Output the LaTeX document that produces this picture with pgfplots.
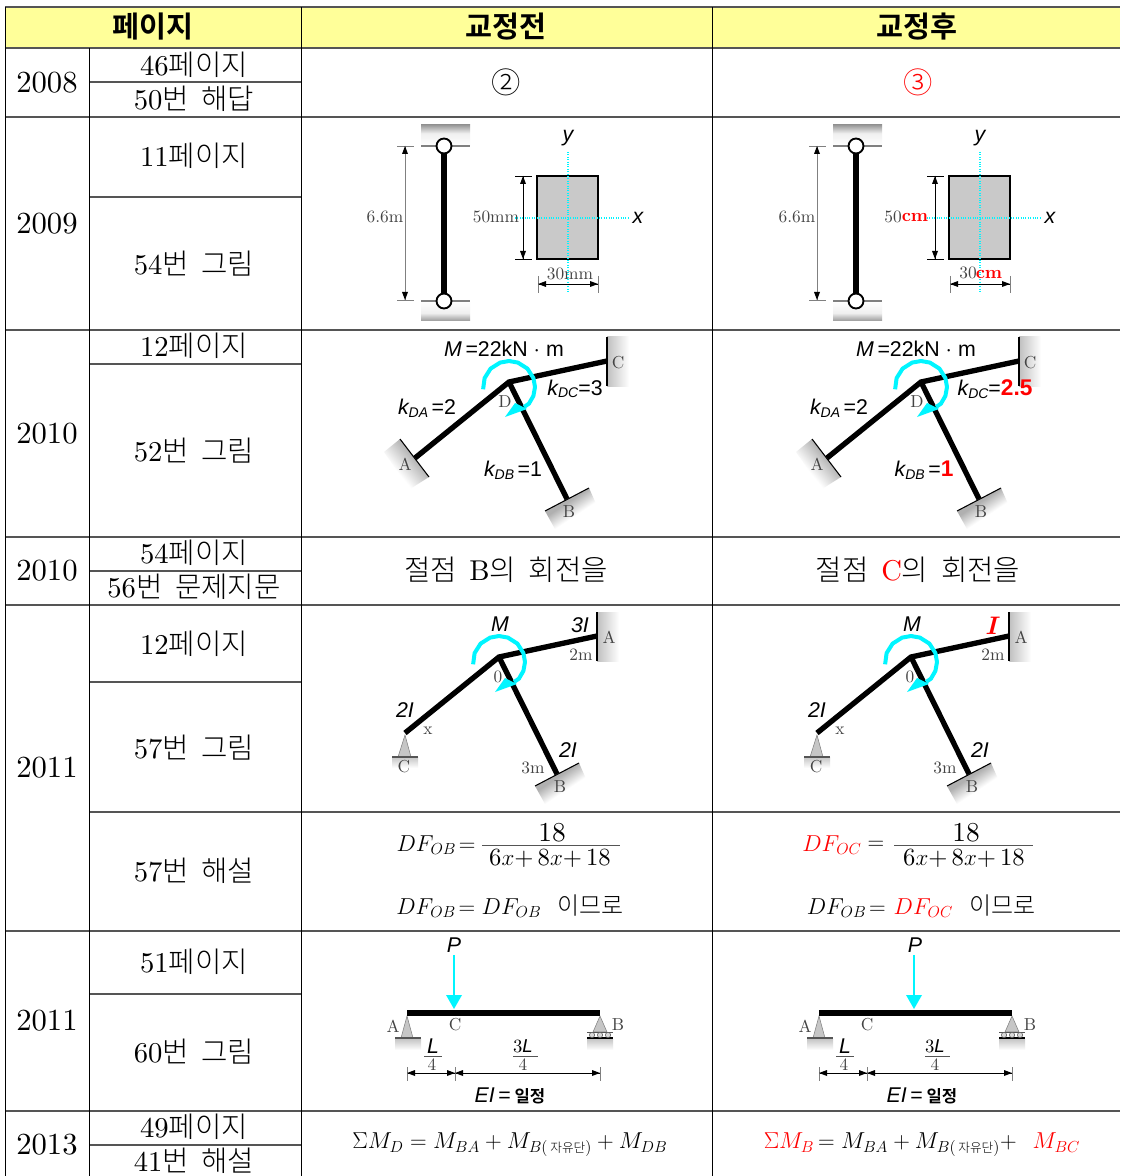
\documentclass[border=0pt]{standalone}
\usepackage{fontspec}
\usepackage{pgfplots}
\pgfplotsset{compat=1.18}
\setmainfont{lmroman10-regular.otf}
\newfontfamily\dgb{lmroman10-bold.otf}
\newfontfamily\dgbi{lmroman10-bolditalic.otf}
\newfontfamily\krf{Noto Sans CJK KR Light}
\newfontfamily\krb{Noto Sans CJK KR Bold}
\newfontfamily\lsf{Liberation Sans}
\definecolor{hdr}{HTML}{FFFF99}
\definecolor{rule}{HTML}{555555}
\definecolor{lab}{HTML}{444444}
\definecolor{cy}{HTML}{00F5FF}
\definecolor{rd}{HTML}{FF0000}
\colorlet{shA}{gray!62}
\colorlet{shB}{gray!12}
\colorlet{shC}{gray!80}
% support gradients: dark next to the line, fading to white
\pgfdeclareverticalshading{wallA}{100bp}{color(0bp)=(white); color(37bp)=(white); color(62bp)=(shA); color(100bp)=(shA)}
\pgfdeclareverticalshading{wallB}{100bp}{color(0bp)=(white); color(41bp)=(white); color(58bp)=(shA); color(100bp)=(shA)}
\pgfdeclareverticalshading{bandup}{100bp}{color(0bp)=(white); color(25bp)=(white); color(55bp)=(shB); color(75bp)=(shC); color(100bp)=(shC)}
\pgfdeclareverticalshading{banddn}{100bp}{color(0bp)=(shC); color(25bp)=(shC); color(45bp)=(shB); color(75bp)=(white); color(100bp)=(white)}
\pgfplotsset{
  off/.style 2 args={x filter/.expression={x+#1},y filter/.expression={y+#2}},
}
% line and polygon helpers, coordinates in image pixels
\newcommand\Ln[4]{\addplot[#1,off={#2}{#3}] coordinates {#4};}
\newcommand\Pg[4]{\addplot[#1,off={#2}{#3}] coordinates {#4} --cycle;}
\newcommand\T[4]{\node[inner sep=0pt,#3] at (axis cs:#1,#2) {#4};}
\newcommand\fs[1]{\fontsize{#1}{#1}\selectfont}
\tikzset{
  cell/.style={font=\fs{23}},
  pg/.style={font=\fs{21.5}},
  grey/.style={font=\fs{13},text=lab},
  sa/.style={font=\lsf\fs{16}},
}
\newcommand\kr[1]{{\krf #1}}
\newcommand\kl[1]{{\lsf\itshape k\raisebox{-2pt}{\fs{10.5}#1}}}
\newcommand\itl[1]{{\lsf\itshape #1}}
\newcommand\rbf[1]{{\lsf\bfseries\fs{17}\textcolor{rd}{#1}}}
\newcommand\redcm{{\dgb\fs{13.5}\textcolor{rd}{cm}}}
\newcommand\den{6$x$+\,8$x$+\,18}

% column on pins with section
\newcommand\colI[1]{
  \Pg{draw=none,shading=bandup}{#1}{0}{(421,125)(470,125)(470,146)(421,146)}
  \Pg{draw=none,shading=banddn}{#1}{0}{(421,301)(470,301)(470,321)(421,321)}
  \Ln{line width=0.9pt,gray}{#1}{0}{(421,146)(470,146)}
  \Ln{line width=0.9pt,gray}{#1}{0}{(421,301)(470,301)}
  \Ln{line width=3.8pt,black}{#1}{0}{(444,146)(444,301)}
  \addplot[only marks,mark=*,mark size=5.6pt,mark options={fill=white,draw=black,line width=1.4pt},off={#1}{0}] coordinates {(444,146)(444,301)};
  \Ln{line width=0.6pt,gray}{#1}{0}{(405,146)(405,300)}
  \Ln{line width=0.6pt,gray}{#1}{0}{(397,146)(414,146)}
  \Ln{line width=0.6pt,gray}{#1}{0}{(397,300)(414,300)}
  \Pg{fill=black,draw=none}{#1}{0}{(405,146)(402,154)(408,154)}
  \Pg{fill=black,draw=none}{#1}{0}{(405,300)(402,292)(408,292)}
  \Pg{fill=gray!42,draw=black,line width=1.5pt}{#1}{0}{(537,176)(598,176)(598,259)(537,259)}
  \Ln{cy,densely dotted,line width=0.8pt}{#1}{0}{(568,152)(568,292)}
  \Ln{cy,densely dotted,line width=0.8pt}{#1}{0}{(515,218)(628,218)}
  \Ln{line width=0.5pt,black}{#1}{0}{(523,176)(523,259)}
  \Ln{line width=0.5pt,black}{#1}{0}{(515,176)(532,176)}
  \Ln{line width=0.5pt,black}{#1}{0}{(515,259)(532,259)}
  \Pg{fill=black,draw=none}{#1}{0}{(523,176)(520,184)(526,184)}
  \Pg{fill=black,draw=none}{#1}{0}{(523,259)(520,251)(526,251)}
  \Ln{line width=0.5pt,black}{#1}{0}{(538,284)(598,284)}
  \Ln{line width=0.5pt,gray}{#1}{0}{(538,276)(538,293)}
  \Ln{line width=0.5pt,gray}{#1}{0}{(598,276)(598,293)}
  \Pg{fill=black,draw=none}{#1}{0}{(538,284)(546,281)(546,287)}
  \Pg{fill=black,draw=none}{#1}{0}{(598,284)(590,281)(590,287)}
}
% frame with moment arrow
\newcommand\frameG[2]{
  \Pg{draw=none,left color=gray!50,right color=white}{#1}{#2}{(607,337)(629,337)(629,386)(607,386)}
  \Ln{line width=0.8pt,black}{#1}{#2}{(607,337)(607,386)}
  \Pg{draw=none,shading=wallB,shading angle=33.5}{#1}{#2}{(545,511)(589,488)(597,506)(555,529)}
  \Ln{line width=0.8pt,black}{#1}{#2}{(545,511)(589,488)}
  \Ln{line width=4pt,black,line join=miter}{#1}{#2}{(415,458)(509,382)(607,361)}
  \Ln{line width=4pt,black}{#1}{#2}{(509,382)(567,499)}
  \Ln{line width=3pt,cy,line join=round}{#1}{#2}{(483.1,389.3)(484.6,378.1)(490.6,368.6)(500.1,362.6)(509,361)(517.9,362.6)(527.4,368.6)(533.4,378.1)(535,387)(533.4,395.9)(528.9,403.7)(524,407)}
  \Pg{fill=cy,draw=none}{#1}{#2}{(505,417)(527,409)(515,403)}
}
\newcommand\wallA[1]{
  \Pg{draw=none,shading=wallA,shading angle=-50}{#1}{0}{(400,439)(429,477)(410,489)(384,452)}
  \Ln{line width=0.8pt,black}{#1}{0}{(400,439)(429,477)}
}
\newcommand\pinC[1]{
  \Pg{draw=none,top color=gray!45,bottom color=white}{#1}{0}{(392,757)(418,757)(418,768)(392,768)}
  \Pg{fill=gray!45,draw=gray,line width=0.4pt}{#1}{0}{(405,735)(398,757)(411,757)}
  \Ln{line width=0.8pt,rule}{#1}{0}{(392,757)(418,757)}
}
% simple beam; arrow x with the head's left and right x
\newcommand\beam[4]{
  \Pg{draw=none,top color=gray!45,bottom color=white}{#1}{0}{(395,1039)(421,1039)(421,1050)(395,1050)}
  \Pg{draw=none,top color=gray!45,bottom color=white}{#1}{0}{(587,1039)(613,1039)(613,1050)(587,1050)}
  \Pg{fill=gray!45,draw=gray,line width=0.4pt}{#1}{0}{(407,1016)(401,1038)(413,1038)}
  \Ln{line width=0.8pt,rule}{#1}{0}{(395,1038)(421,1038)}
  \Pg{fill=gray!45,draw=gray,line width=0.4pt}{#1}{0}{(600,1016)(593,1032)(607,1032)}
  \Ln{line width=0.6pt,rule}{#1}{0}{(587,1032)(613,1032)}
  \addplot[only marks,mark=*,mark size=2pt,mark options={fill=gray!30,draw=rule,line width=0.4pt},off={#1}{0}] coordinates {(592,1035)(600,1035)(608,1035)};
  \Ln{line width=0.8pt,black}{#1}{0}{(587,1038)(613,1038)}
  \Ln{line width=4.2pt,black}{#1}{0}{(407,1013)(600,1013)}
  \Ln{line width=2.2pt,cy}{#1}{0}{(#2,955)(#2,997)}
  \Pg{fill=cy,draw=none}{#1}{0}{(#2,1009)(#3,995)(#4,995)}
  \Ln{line width=0.5pt,black}{#1}{0}{(407,1073)(600,1073)}
  \Ln{line width=0.5pt,gray}{#1}{0}{(407,1067)(407,1081)}
  \Ln{line width=0.5pt,gray}{#1}{0}{(455,1067)(455,1081)}
  \Ln{line width=0.5pt,gray}{#1}{0}{(600,1067)(600,1081)}
  \Pg{fill=black,draw=none}{#1}{0}{(407,1073)(415,1070)(415,1076)}
  \Pg{fill=black,draw=none}{#1}{0}{(455,1073)(447,1070)(447,1076)}
  \Pg{fill=black,draw=none}{#1}{0}{(455,1073)(463,1070)(463,1076)}
  \Pg{fill=black,draw=none}{#1}{0}{(600,1073)(592,1070)(592,1076)}
  \Ln{line width=0.5pt,rule}{#1}{0}{(424,1056)(442,1056)}
  \Ln{line width=0.5pt,rule}{#1}{0}{(513,1056)(538,1056)}
}
\begin{document}
\begin{tikzpicture}
\begin{axis}[
  scale only axis, width=840pt, height=882pt,
  xmin=0, xmax=1120, ymin=0, ymax=1176, y dir=reverse,
  hide axis, clip=true,
]
% page background and header
\Pg{fill=white,draw=none}{0}{0}{(0,0)(1120,0)(1120,1176)(0,1176)}
\Pg{fill=hdr,draw=none}{0}{0}{(5,7)(1120,7)(1120,48)(5,48)}
% full width rules
\Ln{line width=0.9pt,rule}{0}{0}{(5,7)(1120,7)}
\Ln{line width=0.9pt,rule}{0}{0}{(5,48)(1120,48)}
\Ln{line width=0.9pt,rule}{0}{0}{(5,117)(1120,117)}
\Ln{line width=0.9pt,rule}{0}{0}{(5,330)(1120,330)}
\Ln{line width=0.9pt,rule}{0}{0}{(5,537)(1120,537)}
\Ln{line width=0.9pt,rule}{0}{0}{(5,605)(1120,605)}
\Ln{line width=0.9pt,rule}{0}{0}{(5,931)(1120,931)}
\Ln{line width=0.9pt,rule}{0}{0}{(5,1111)(1120,1111)}
% inner rules of the page column
\Ln{line width=0.9pt,rule}{0}{0}{(89,82)(301,82)}
\Ln{line width=0.9pt,rule}{0}{0}{(89,197)(301,197)}
\Ln{line width=0.9pt,rule}{0}{0}{(89,364)(301,364)}
\Ln{line width=0.9pt,rule}{0}{0}{(89,571)(301,571)}
\Ln{line width=0.9pt,rule}{0}{0}{(89,682)(301,682)}
\Ln{line width=0.9pt,rule}{0}{0}{(89,812)(1120,812)}
\Ln{line width=0.9pt,rule}{0}{0}{(89,994)(301,994)}
\Ln{line width=0.9pt,rule}{0}{0}{(89,1145)(301,1145)}
% verticals
\Ln{line width=0.7pt,black}{0}{0}{(5,7)(5,1176)}
\Ln{line width=0.7pt,black}{0}{0}{(89,48)(89,1176)}
\Ln{line width=0.7pt,black}{0}{0}{(301,7)(301,1176)}
\Ln{line width=0.7pt,black}{0}{0}{(712,7)(712,1176)}
% header text
\T{153}{27}{font=\krb\fs{22}}{페이지}
\T{506}{27}{font=\krb\fs{22}}{교정전}
\T{917}{27}{font=\krb\fs{22}}{교정후}
% years
\T{47}{83}{cell}{2008}
\T{47}{224}{cell}{2009}
\T{47}{434}{cell}{2010}
\T{47}{571}{cell}{2010}
\T{47}{768}{cell}{2011}
\T{47}{1021}{cell}{2011}
\T{47}{1145}{cell}{2013}
% page column
\T{194}{65}{pg}{46\kr{페이지}}
\T{194}{99}{pg}{50\kr{번\ \ 해답}}
\T{194}{156}{pg}{11\kr{페이지}}
\T{194}{264}{pg}{54\kr{번\ \ 그림}}
\T{194}{346}{pg}{12\kr{페이지}}
\T{194}{451}{pg}{52\kr{번\ \ 그림}}
\T{194}{553}{pg}{54\kr{페이지}}
\T{194}{587}{pg}{56\kr{번\ \ 문제지문}}
\T{194}{644}{pg}{12\kr{페이지}}
\T{194}{748}{pg}{57\kr{번\ \ 그림}}
\T{194}{871}{pg}{57\kr{번\ \ 해설}}
\T{194}{962}{pg}{51\kr{페이지}}
\T{194}{1052}{pg}{60\kr{번\ \ 그림}}
\T{194}{1127}{pg}{49\kr{페이지}}
\T{194}{1161}{pg}{41\kr{번\ \ 해설}}
% row 2008
\T{506}{82}{font=\krf\fs{22}}{②}
\T{918}{82}{font=\krf\fs{22},text=rd}{③}
% row 2009
\colI{0}
\colI{412}
\T{385}{217}{grey}{6.6m}
\T{797}{217}{grey}{6.6m}
\T{496}{217}{grey}{50mm}
\T{570}{274}{grey}{30mm}
\T{893}{217}{grey}{50}
\T{915}{217}{}{\redcm}
\T{968}{273}{grey}{30}
\T{989}{274}{}{\redcm}
\T{568}{138}{sa}{\itl{y}}
\T{980}{138}{sa}{\itl{y}}
\T{638}{218}{sa}{\itl{x}}
\T{1050}{218}{sa}{\itl{x}}
% row 2010 frame
\wallA{0}
\wallA{412}
\frameG{0}{0}
\frameG{412}{0}
\T{504}{349}{sa}{\itl{M}\,=22kN\ $\cdot$\ m}
\T{916}{349}{sa}{\itl{M}\,=22kN\ $\cdot$\ m}
\T{618}{363}{grey}{C}
\T{1030}{363}{grey}{C}
\T{505}{402}{grey}{D}
\T{917}{402}{grey}{D}
\T{405}{464}{grey}{A}
\T{817}{464}{grey}{A}
\T{569}{512}{grey}{B}
\T{981}{512}{grey}{B}
\T{427}{408}{sa}{\kl{DA}\,=2}
\T{839}{408}{sa}{\kl{DA}\,=2}
\T{575}{389}{sa}{\kl{DC}=3}
\T{995}{389}{sa}{\kl{DC}=\rbf{2.5}}
\T{513}{470}{sa}{\kl{DB}\,=1}
\T{924}{470}{sa}{\kl{DB}\,=\rbf{1}}
% row 2010 text
\T{506}{570}{pg}{\kr{절점\ \ }B\kr{의\ \ 회전을}}
\T{918}{570}{pg}{\kr{절점\ \ }\textcolor{rd}{C}\kr{의\ \ 회전을}}
% row 2011 frame
\pinC{0}
\pinC{412}
\frameG{-10}{275}
\frameG{402}{275}
\T{609}{637}{grey}{A}
\T{1021}{637}{grey}{A}
\T{581}{655}{grey}{2m}
\T{993}{655}{grey}{2m}
\T{498}{677}{grey}{0}
\T{910}{677}{grey}{0}
\T{428}{731}{grey}{x}
\T{840}{731}{grey}{x}
\T{404}{767}{grey}{C}
\T{816}{767}{grey}{C}
\T{533}{768}{grey}{3m}
\T{945}{768}{grey}{3m}
\T{560}{787}{grey}{B}
\T{972}{787}{grey}{B}
\T{500}{624}{sa}{\itl{M}}
\T{912}{624}{sa}{\itl{M}}
\T{580}{625}{sa}{\itl{3I}}
\T{991}{626}{}{{\dgbi\fs{19}\textcolor{rd}{I}}}
\T{405}{710}{sa}{\itl{2I}}
\T{817}{710}{sa}{\itl{2I}}
\T{568}{750}{sa}{\itl{2I}}
\T{980}{750}{sa}{\itl{2I}}
% row 2011 formulas
\Ln{line width=0.5pt,rule}{0}{0}{(482,845)(620,845)}
\Ln{line width=0.5pt,rule}{0}{0}{(894,845)(1033,845)}
\T{436}{845}{font=\fs{18}}{$DF_{OB}\!=$}
\T{552}{833}{font=\fs{20.5}}{18}
\T{550}{858}{font=\fs{18.5}}{\den}
\T{832}{845}{font=\fs{18},text=rd}{$DF_{OC}$}
\T{876}{845}{font=\fs{18}}{$=$}
\T{966}{833}{font=\fs{20.5}}{18}
\T{964}{858}{font=\fs{18.5}}{\den}
\T{510}{906}{font=\fs{18}}{$DF_{OB}\!=DF_{OB}$\ \ \kr{이므로}}
\T{921}{906}{font=\fs{18}}{$DF_{OB}\!=$\ \textcolor{rd}{$DF_{OC}$}\ \ \kr{이므로}}
% row 2011 beam
\beam{0}{454}{446}{462}
\beam{412}{502}{494}{510}
\T{454}{945}{sa}{\itl{P}}
\T{915}{945}{sa}{\itl{P}}
\T{393}{1026}{grey}{A}
\T{805}{1026}{grey}{A}
\T{455}{1025}{grey}{C}
\T{867}{1025}{grey}{C}
\T{618}{1025}{grey}{B}
\T{1030}{1025}{grey}{B}
\T{433}{1046}{sa}{\itl{L}}
\T{845}{1046}{sa}{\itl{L}}
\T{432}{1065}{grey}{4}
\T{844}{1065}{grey}{4}
\T{523}{1046}{font=\fs{14}}{3\itl{L}}
\T{935}{1046}{font=\fs{14}}{3\itl{L}}
\T{523}{1065}{grey}{4}
\T{935}{1065}{grey}{4}
\T{510}{1096}{sa}{\itl{EI}\,={\krb\fs{12.5} 일정}}
\T{922}{1096}{sa}{\itl{EI}\,={\krb\fs{12.5} 일정}}
% last row
\T{510}{1145}{font=\fs{18}}{$\Sigma M_D=M_{BA}+M_{B(\mbox{\krf\fs{9.5} 자유단})}+M_{DB}$}
\T{922}{1145}{font=\fs{18}}{\textcolor{rd}{$\Sigma M_B$}$\,=M_{BA}+M_{B(\mbox{\krf\fs{9.5} 자유단})}+$\ \ \textcolor{rd}{$M_{BC}$}}
\end{axis}
\end{tikzpicture}
\end{document}
